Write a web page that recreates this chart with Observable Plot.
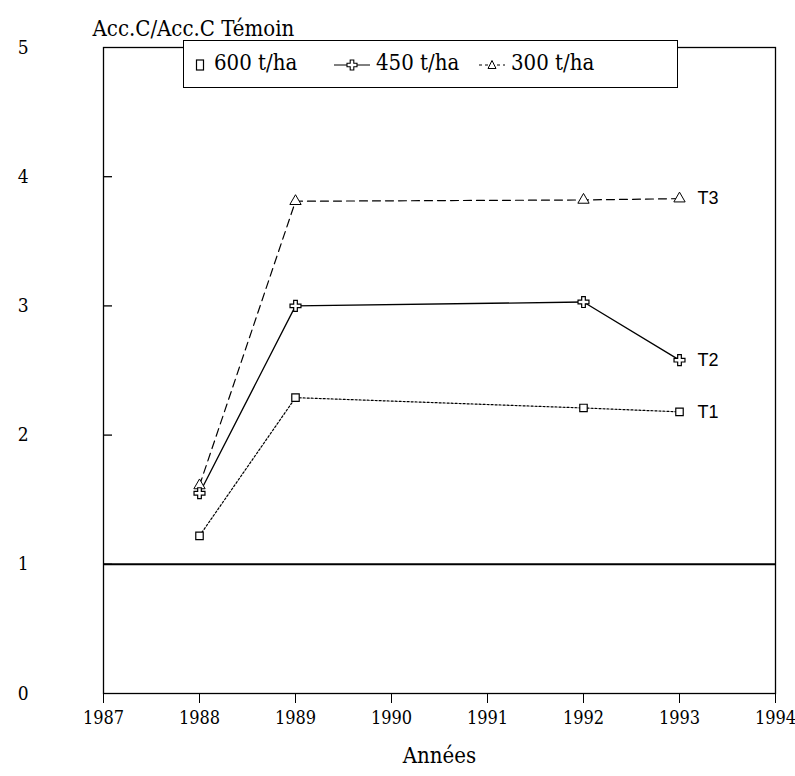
<!DOCTYPE html>
<html>
<head>
<meta charset="utf-8">
<script src="https://cdn.jsdelivr.net/npm/d3@7"></script>
<script src="https://cdn.jsdelivr.net/npm/@observablehq/plot@0.6"></script>
<style>
  html, body { margin: 0; padding: 0; background: #fff; }
  #wrap { position: relative; width: 795px; height: 776px; }
  #legend { position: absolute; left: 183px; top: 40px; width: 493px; height: 46px;
    background: #fff; border: 1.5px solid #000; font-family: "DejaVu Serif", serif; font-stretch: condensed; font-size: 22px; color: #000; }
  #legend span { position: absolute; top: 9px; white-space: nowrap; font-family: "DejaVu Serif", serif; font-stretch: condensed; }
  #legend svg { position: absolute; top: 0; }
  svg text { font-stretch: condensed; }
</style>
</head>
<body>
<div id="wrap"></div>
<script>
const years = [1988, 1989, 1992, 1993];
const t1 = [1.22, 2.29, 2.21, 2.18];   // 600 t/ha
const t2 = [1.55, 3.00, 3.03, 2.58];   // 450 t/ha
const t3 = [1.61, 3.81, 3.82, 3.83];   // 300 t/ha
const seriesNames = ["T1", "T2", "T3"];
const legendLabels = ["600 t/ha", "450 t/ha", "300 t/ha"];
const xTicks = [1987, 1988, 1989, 1990, 1991, 1992, 1993, 1994];
const yTicks = [0, 1, 2, 3, 4, 5];

const toRows = (vals, name) => years.map((y, i) => ({year: y, value: vals[i], series: name}));
const d1 = toRows(t1, seriesNames[0]), d2 = toRows(t2, seriesNames[1]), d3r = toRows(t3, seriesNames[2]);
const lastRows = [d1[3], d2[3], d3r[3]];

const serif = '"DejaVu Serif", serif';
const W = 795, H = 776, mL = 103, mR = 20, mT = 47, mB = 83;

const chart = Plot.plot({
  width: W, height: H,
  marginLeft: mL, marginRight: mR, marginTop: mT, marginBottom: mB,
  style: {fontFamily: serif, fontSize: "19px", color: "#000", background: "#fff", overflow: "visible"},
  x: {domain: [1987, 1994]},
  y: {domain: [0, 5]},
  marks: [
    Plot.frame({stroke: "#000", strokeWidth: 1.3}),
    Plot.axisX({ticks: xTicks, tickFormat: d => String(d), tickSize: 10, tickPadding: 8, label: null, fontSize: 18}),
    Plot.axisY({ticks: yTicks, tickFormat: d => String(d), tickSize: 0, tickPadding: 75, label: null, fontSize: 19}),
    Plot.tickY([1, 2, 3, 4], {y: d => d, stroke: "#000", strokeWidth: 1.3, insetRight: W - mL - mR - 9}),
    Plot.ruleY([1], {stroke: "#000", strokeWidth: 2}),
    Plot.line(d3r, {x: "year", y: "value", stroke: "#000", strokeWidth: 1.2, strokeDasharray: "8,5"}),
    Plot.line(d2, {x: "year", y: "value", stroke: "#000", strokeWidth: 1.3}),
    Plot.line(d1, {x: "year", y: "value", stroke: "#000", strokeWidth: 1.2, strokeDasharray: "2,2"}),
    Plot.dot(d3r, {x: "year", y: "value", symbol: "triangle", r: 4.2, fill: "#fff", stroke: "#000", strokeWidth: 1}),
    Plot.dot(d2, {x: "year", y: "value", symbol: "cross", r: 4.6, fill: "#fff", stroke: "#000", strokeWidth: 1.2}),
    Plot.dot(d1, {x: "year", y: "value", symbol: "square", r: 4.2, fill: "#fff", stroke: "#000", strokeWidth: 1.2}),
    Plot.text(lastRows, {x: "year", y: "value", text: "series", dx: 18, textAnchor: "start",
      fontFamily: '"Liberation Sans", Arial, sans-serif', fontSize: 18}),
    Plot.text(["Acc.C/Acc.C Témoin"], {frameAnchor: "top-left", text: d => d, dx: -11, dy: -27,
      textAnchor: "start", fontSize: 22}),
    Plot.text(["Années"], {frameAnchor: "bottom", text: d => d, dy: 69, fontSize: 22})
  ]
});

const wrap = document.getElementById("wrap");
wrap.appendChild(chart);

// legend (HTML overlay)
const lg = document.createElement("div");
lg.id = "legend";
const sym = {
  square: '<rect x="-3.5" y="-5" width="7" height="10" fill="#fff" stroke="#000" stroke-width="1.2"/>',
  cross: '<path d="M-1.8,-5H1.8V-1.8H5V1.8H1.8V5H-1.8V1.8H-5V-1.8H-1.8Z" fill="#fff" stroke="#000" stroke-width="1.1"/>',
  triangle: '<path d="M0,-4.5L4,3.5H-4Z" fill="#fff" stroke="#000" stroke-width="1"/>'
};
const items = [
  {x0: 8, w: 16, line: null, s: "square", tx: 30},
  {x0: 150, w: 36, line: "", s: "cross", tx: 192},
  {x0: 295, w: 26, line: "3,3", s: "triangle", tx: 327}
];
items.forEach((it, i) => {
  const svg = `<svg width="${it.w}" height="46" style="left:${it.x0}px">` +
    (it.line !== null ? `<line x1="0" x2="${it.w}" y1="24" y2="24" stroke="#000" stroke-width="1" ${it.line ? `stroke-dasharray="${it.line}"` : ""}/>` : "") +
    `<g transform="translate(${it.w / 2},24)">${sym[it.s]}</g></svg>`;
  lg.insertAdjacentHTML("beforeend", svg + `<span style="left:${it.tx}px">${legendLabels[i]}</span>`);
});
wrap.appendChild(lg);
</script>
</body>
</html>
